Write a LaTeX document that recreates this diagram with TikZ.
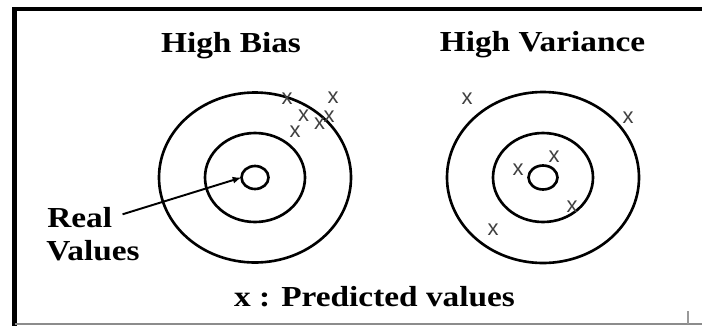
\documentclass[tikz,border=0pt]{standalone}
\usepackage{fontspec}
\setmainfont{Liberation Serif}[FakeStretch=1.15]
\newfontfamily\crossfont{Liberation Sans}
\usetikzlibrary{arrows.meta}

\begin{document}
\begin{tikzpicture}[x=0.02cm, y=0.02cm,
  ring/.style={line width=1.5pt},
  pred/.style={inner sep=0pt, text=black!75, font=\crossfont\fontsize{12.5}{12.5}\selectfont},
  caption/.style={inner sep=0pt, font=\bfseries\fontsize{16.5}{19.8}\selectfont},
  pointer/.style={line width=1.1pt, -{Latex[length=5pt,width=4pt]}}]
  \useasboundingbox (0,0) rectangle (702,326);
  % frame
  \draw[line width=2.3pt] (702,317) -- (14.5,317) -- (14.5,0);
  \draw[black!45, line width=1.1pt] (14.5,2) -- (702,2);
  \draw[black!40, line width=0.8pt] (688,2) -- (688,15.5);
  % high bias
  \begin{scope}[shift={(255,148.5)}]
  \draw[ring] (0,0) ellipse (96 and 85) ellipse (50 and 44.5) ellipse (13.5 and 11.5);
  \coordinate (hbcore) at (-13.5,0);
  \foreach \x/\y [count=\i] in {32/78.5, 78/79.5, 48.5/61.5, 74/60.5, 64.5/54, 40/46}
    {\node[pred] (hb\i) at (\x,\y) {x};}
  \node[caption, anchor=base] (hbtitle) at (-24,125.2) {High Bias};
  \end{scope}
  % high variance
  \begin{scope}[shift={(543,148.5)}]
  \draw[ring] (0,0) ellipse (96 and 85.5) ellipse (50 and 44.5) ellipse (14.5 and 12);
  \foreach \x/\y [count=\i] in {-76/78.5, 85/59.5, 11/20.5, -25/7.5, 29/-29.5, -50/-52.5}
    {\node[pred] (hv\i) at (\x,\y) {x};}
  \node[caption, anchor=base] (hvtitle) at (-0.5,125.8) {High Variance};
  \end{scope}
  % labels
  \node[caption, anchor=base west] (real) at (47,98.7) {Real};
  \node[caption, anchor=base west] (values) at (46,66) {Values};
  \draw[pointer, shorten <=6pt] (real.east) -- (hbcore);
  \node[caption, anchor=base] (legend) at (374.5,19.3) {x : Predicted values};
\end{tikzpicture}
\end{document}
